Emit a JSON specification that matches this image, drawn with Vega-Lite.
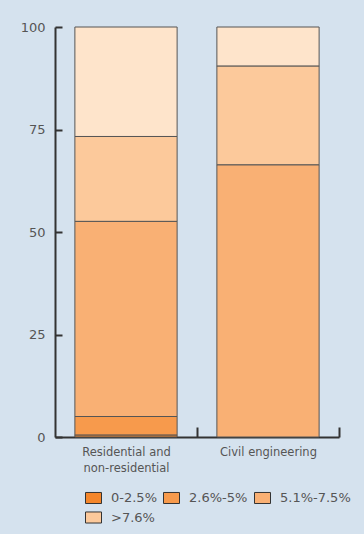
{
  "$schema": "https://vega.github.io/schema/vega-lite/v6.json",
  "width": 284,
  "height": 410,
  "autosize": {"type": "none"},
  "padding": {"left": 55, "top": 27, "right": 25, "bottom": 97},
  "background": "#d5e2ee",
  "config": {
    "view": {"stroke": null},
    "font": "DejaVu Sans",
    "axis": {"labelColor": "#555555", "domainColor": "#333333", "tickColor": "#333333", "grid": false, "title": null}
  },
  "data": {
    "values": [
      {"sector": "Residential and non-residential", "band": "0-2.5%", "k": 0, "value": 0.5},
      {"sector": "Residential and non-residential", "band": "2.6%-5%", "k": 1, "value": 4.5},
      {"sector": "Residential and non-residential", "band": "5.1%-7.5%", "k": 2, "value": 47.6},
      {"sector": "Residential and non-residential", "band": ">7.6%", "k": 3, "value": 20.7},
      {"sector": "Residential and non-residential", "band": "other", "k": 4, "value": 26.7},
      {"sector": "Civil engineering", "band": "5.1%-7.5%", "k": 2, "value": 66.4},
      {"sector": "Civil engineering", "band": ">7.6%", "k": 3, "value": 24.1},
      {"sector": "Civil engineering", "band": "other", "k": 4, "value": 9.5}
    ]
  },
  "mark": {"type": "bar", "stroke": "#555555", "strokeWidth": 1},
  "encoding": {
    "x": {
      "field": "sector", "type": "nominal", "sort": null,
      "scale": {"paddingInner": 0.28, "paddingOuter": 0.14},
      "axis": {
        "labelAngle": 0, "labelFontSize": 11.5, "labelPadding": 19, "labelLineHeight": 16, "labelOffset": -71,
        "tickBand": "center", "tickOffset": 71, "tickSize": -10, "tickWidth": 2, "domainWidth": 2,
        "labelExpr": "datum.value == 'Residential and non-residential' ? ['Residential and', 'non-residential'] : datum.value"
      }
    },
    "y": {
      "field": "value", "type": "quantitative", "stack": "zero",
      "scale": {"domain": [0, 100]},
      "axis": {"values": [0, 25, 50, 75, 100], "labelFontSize": 13, "tickSize": -7, "tickWidth": 2, "domainWidth": 2, "labelPadding": 17}
    },
    "order": {"field": "k", "type": "quantitative"},
    "color": {
      "field": "band", "type": "nominal",
      "scale": {
        "domain": ["0-2.5%", "2.6%-5%", "5.1%-7.5%", ">7.6%", "other"],
        "range": ["#f4862b", "#f79a4c", "#f9b074", "#fcc99b", "#fee4cb"]
      },
      "legend": {
        "values": ["0-2.5%", "2.6%-5%", "5.1%-7.5%", ">7.6%"],
        "title": null, "orient": "none", "legendX": 30, "legendY": 462,
        "direction": "horizontal", "columns": 3, "columnPadding": 4, "rowPadding": 3,
        "symbolType": "M-1,-0.69H1V0.69H-1Z", "symbolSize": 256,
        "symbolStrokeColor": "#333333", "symbolStrokeWidth": 1, "symbolOpacity": 1,
        "labelFontSize": 13, "labelColor": "#555555", "labelOffset": 9
      }
    }
  }
}
